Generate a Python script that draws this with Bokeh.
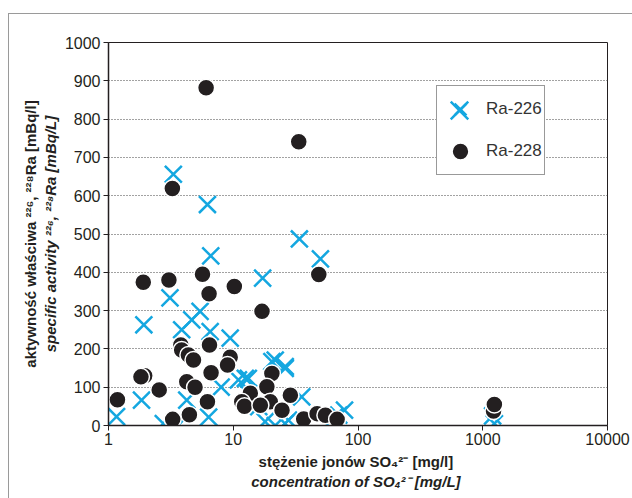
from bokeh.plotting import figure
from bokeh.models import (LogAxis, LinearAxis, FixedTicker, Legend, LegendItem,
                          NumeralTickFormatter)
from bokeh.embed import file_html
from bokeh.resources import INLINE

# Ra-226 (crosses): sulphate concentration [mg/l], specific activity [mBq/l]
ra226_so4 = [3.31, 6.21, 6.6, 33.9, 50.0, 17.2, 3.11, 1.92, 5.42, 4.65, 3.86, 6.53,
             9.45, 11.0, 12.5, 21.7, 26.1, 1.84, 1.16, 1239, 2.75, 3.6, 6.35, 13.2,
             16.0, 21.7, 27.7, 35.4, 65.0, 78.0, 20.4, 26.1, 13.2, 70.0, 18.0, 26.0,
             4.24, 8.0, 1200]
ra226_act = [656, 577, 443, 487, 435, 385, 333, 263, 298, 276, 250, 245,
             228, 119, 123, 171, 154, 66, 23, 5, 5, 0, 22, 84,
             49, 0, 14, 75, 23, 40, 167, 149, 123, 27, 10, 5,
             66, 100, 25]

# Ra-228 (circles)
ra228_so4 = [6.06, 33.5, 3.25, 1.90, 3.05, 5.67, 6.4, 10.2, 17.0, 48.5,
             3.80, 3.86, 4.37, 4.8, 6.45, 9.45, 9.0, 6.64, 1.95, 1.82, 2.55, 4.24,
             4.94, 1.18, 6.21, 3.27, 4.45, 20.4, 18.6, 13.7, 19.8, 11.7, 12.3, 16.5,
             28.7, 24.6, 36.7, 47.0, 54.8, 68.0, 1220, 1239]
ra228_act = [882, 741, 619, 374, 380, 395, 344, 363, 298, 394,
             210, 197, 184, 171, 210, 178, 158, 138, 130, 127, 93, 114,
             100, 67, 62, 16, 28, 136, 101, 84, 62, 62, 50, 53,
             79, 40, 17, 31, 27, 16, 38, 55]

y_ticks = list(range(0, 1001, 100))
x_ticks = [1, 10, 100, 1000, 10000]

FONT = "Liberation Sans"
DARK = "#231f20"
BLUE = "#14a7e0"

p = figure(width=624, height=485, x_axis_type="log", x_range=(1, 10000), y_range=(0, 1000),
           output_backend="svg", toolbar_location=None,
           min_border_left=99, min_border_right=26, min_border_top=28, min_border_bottom=74)
p.margin = (13, 0, 0, 8)
p.styles = {"border-left": "1.5px solid #9a9a9a", "border-top": "1.5px solid #9a9a9a"}
p.background_fill_color = "white"
p.border_fill_color = "white"
p.outline_line_color = DARK
p.outline_line_width = 1

p.xgrid.grid_line_color = None
p.ygrid.grid_line_color = "#444444"
p.ygrid.grid_line_dash = "1 2"
p.ygrid.grid_line_width = 1
p.ygrid.ticker = FixedTicker(ticks=y_ticks)

for ax in (p.xaxis[0], p.yaxis[0]):
    ax.axis_line_color = DARK
    ax.axis_line_width = 1.5
    ax.major_tick_line_color = DARK
    ax.major_tick_out = 5
    ax.major_tick_in = 0
    ax.minor_tick_line_color = None
    ax.major_label_text_font = FONT
    ax.major_label_text_font_size = "16px"
    ax.major_label_text_color = DARK
    ax.axis_label_text_font = FONT
    ax.axis_label_text_font_size = "15px"
    ax.axis_label_text_font_style = "bold"
    ax.axis_label_text_color = DARK

p.yaxis[0].ticker = FixedTicker(ticks=y_ticks)
p.yaxis[0].major_label_standoff = 3
p.yaxis[0].axis_label = "specific activity ²²⁶, ²²⁸Ra [mBq/L]"
p.yaxis[0].axis_label_text_font_style = "bold italic"
p.yaxis[0].axis_label_standoff = 3

p.xaxis[0].ticker = FixedTicker(ticks=x_ticks)
p.xaxis[0].formatter = NumeralTickFormatter(format="0")
p.xaxis[0].major_label_standoff = 2
p.xaxis[0].axis_label = "stężenie jonów SO₄²⁻  [mg/l]"
p.xaxis[0].axis_label_standoff = 5

# second label lines as extra label-only axes
y2 = LinearAxis(ticker=FixedTicker(ticks=[]), axis_label="aktywność właściwa ²²⁶, ²²⁸Ra [mBq/l]",
                axis_line_color=None, major_tick_line_color=None, minor_tick_line_color=None,
                major_label_text_font_size="0px", axis_label_standoff=0,
                axis_label_text_font=FONT, axis_label_text_font_size="15px",
                axis_label_text_font_style="bold", axis_label_text_color=DARK)
p.add_layout(y2, "left")
x2 = LogAxis(ticker=FixedTicker(ticks=[]), axis_label="concentration of SO₄²⁻  [mg/L]",
             axis_line_color=None, major_tick_line_color=None, minor_tick_line_color=None,
             major_label_text_font_size="0px", axis_label_standoff=0,
             axis_label_text_font=FONT, axis_label_text_font_size="15px",
             axis_label_text_font_style="bold italic", axis_label_text_color=DARK)
p.add_layout(x2, "below")

r226 = p.scatter(ra226_so4, ra226_act, marker="x", size=24, line_color=BLUE, line_width=2.5)
r228 = p.scatter(ra228_so4, ra228_act, marker="circle", size=17, fill_color=DARK,
                 line_color="white", line_width=1.5)

leg = Legend(items=[LegendItem(label="Ra-226", renderers=[r226]),
                    LegendItem(label="Ra-228", renderers=[r228])],
             location=(328, 250), glyph_width=42, glyph_height=42, label_height=42,
             spacing=0, padding=2, label_standoff=5, margin=0,
             label_text_font=FONT, label_text_font_size="17px", label_text_color="#333333",
             border_line_color="#333333", border_line_width=1.5, background_fill_color="white",
             background_fill_alpha=1)
p.add_layout(leg)
leg_big = Legend(items=[LegendItem(label=" ", renderers=[r226])],
                 location=(320, 284), glyph_width=62, glyph_height=62, label_height=20,
                 padding=0, margin=0, label_standoff=0, border_line_color=None,
                 background_fill_alpha=0, label_text_font_size="1px")
p.add_layout(leg_big)

open("out.html", "w").write(file_html(p, INLINE))
